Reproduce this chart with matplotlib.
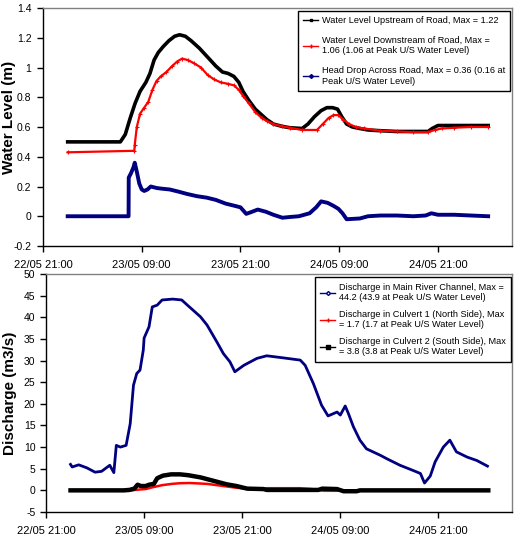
import matplotlib
matplotlib.use("Agg")
import matplotlib.pyplot as plt
from matplotlib.lines import Line2D
from matplotlib.ticker import FuncFormatter, MultipleLocator

plt.rcParams['font.family'] = ['Liberation Sans', 'DejaVu Sans']
plt.rcParams['axes.unicode_minus'] = False

# ---- data (time in hours since 23/05 00:00) ----
AXIS_START_OFFSET = 3.0   # 22/05 21:00 is 3 h before 23/05 00:00
x_tick_hours = [0, 12, 24, 36, 48]  # hours since 22/05 21:00
x_tick_labels = ["22/05 21:00", "23/05 09:00", "23/05 21:00", "24/05 09:00", "24/05 21:00"]

up_t = [0, 6.4, 7.0, 7.6, 8.2, 8.8, 9.5, 10.0, 10.5, 11.0, 11.6, 12.3, 13.0, 13.6, 14.3,
        15.0, 16.0, 17.0, 18.0, 18.8, 19.5, 20.2, 20.8, 21.3, 22.0, 22.8, 23.6, 24.2, 25.0,
        26.0, 27.0, 28.5, 29.2, 30.0, 30.8, 31.5, 32.2, 32.8, 33.3, 33.9, 34.6, 35.5, 36.5,
        38.0, 40.0, 42.0, 43.8, 44.3, 45.0, 46.0, 48.0, 51.1]
up_v = [0.50, 0.50, 0.55, 0.66, 0.76, 0.84, 0.90, 0.96, 1.05, 1.10, 1.14, 1.18, 1.21, 1.22, 1.21,
        1.18, 1.13, 1.07, 1.01, 0.97, 0.96, 0.94, 0.90, 0.84, 0.78, 0.72, 0.68, 0.65, 0.62,
        0.605, 0.595, 0.59, 0.62, 0.67, 0.71, 0.73, 0.73, 0.72, 0.67, 0.62, 0.60, 0.59, 0.58,
        0.575, 0.57, 0.57, 0.57, 0.59, 0.61, 0.61, 0.61, 0.61]

down_t = [0, 8.1, 8.15, 8.4, 8.8, 9.3, 9.8, 10.3, 10.8, 11.3, 12.0, 12.7, 13.3, 13.9, 14.6,
          15.3, 16.2, 17.0, 17.8, 18.6, 19.5, 20.2, 20.8, 21.3, 22.0, 22.8, 23.6, 24.2, 25.0,
          26.0, 27.0, 28.5, 30.3, 31.0, 31.7, 32.3, 32.9, 33.5, 34.2, 35.0, 36.0, 38.0, 40.0,
          42.0, 43.8, 44.6, 45.5, 47.0, 49.0, 51.1]
down_v = [0.43, 0.44, 0.48, 0.60, 0.69, 0.73, 0.77, 0.85, 0.91, 0.94, 0.97, 1.01, 1.04, 1.06, 1.05,
          1.03, 1.00, 0.95, 0.92, 0.90, 0.89, 0.88, 0.85, 0.81, 0.76, 0.70, 0.66, 0.64, 0.62,
          0.605, 0.595, 0.58, 0.58, 0.62, 0.66, 0.68, 0.68, 0.65, 0.62, 0.60, 0.59, 0.575, 0.57,
          0.565, 0.565, 0.58, 0.59, 0.595, 0.60, 0.60]

drop_t = [0, 7.4, 7.42, 7.7, 8.0, 8.15, 8.4, 8.7, 9.0, 9.3, 9.7, 10.1, 10.8, 11.5, 12.4, 13.5,
          14.5, 15.7, 16.9, 18.0, 19.2, 20.3, 21.0, 21.7, 22.4, 23.1, 24.1, 25.0, 26.1, 27.0,
          28.1, 29.4, 30.2, 30.8, 31.6, 32.3, 32.9, 33.4, 33.9, 35.5, 36.5, 38.0, 40.0, 42.0,
          43.5, 44.2, 45.0, 47.0, 49.0, 51.1]
drop_v = [0, 0, 0.26, 0.29, 0.33, 0.36, 0.30, 0.22, 0.18, 0.17, 0.18, 0.20, 0.19, 0.185, 0.18, 0.165,
          0.15, 0.135, 0.125, 0.11, 0.085, 0.07, 0.06, 0.016, 0.03, 0.045, 0.03, 0.01, -0.01, -0.005,
          0.0, 0.02, 0.06, 0.10, 0.09, 0.07, 0.05, 0.02, -0.02, -0.015, 0.0, 0.005, 0.005, 0.0,
          0.005, 0.02, 0.01, 0.01, 0.005, 0.0]

main_t = [0, 0.2, 1.0, 2.0, 3.0, 3.8, 4.8, 5.3, 5.6, 6.1, 6.8, 7.3, 7.7, 8.1, 8.5, 8.9, 9.0,
          9.6, 10.0, 10.6, 11.2, 12.5, 13.6, 14.3, 15.9, 16.7, 17.9, 18.7, 19.5, 20.1, 21.2,
          22.8, 24.0, 26.1, 28.1, 28.7, 29.7, 30.7, 31.5, 32.6, 33.0, 33.6, 34.0, 34.6, 35.4,
          36.2, 37.9, 38.7, 40.3, 41.9, 42.8, 43.3, 44.0, 44.6, 45.6, 46.4, 47.2, 48.5, 49.7, 51.0]
main_v = [6.0, 5.4, 5.9, 5.2, 4.2, 4.4, 5.8, 4.1, 10.4, 10.0, 10.4, 15.4, 24.3, 27.0, 27.8, 32.4, 35.2,
          37.8, 42.4, 42.8, 44.0, 44.2, 44.0, 42.8, 40.1, 38.2, 34.3, 31.6, 29.7, 27.4, 28.9,
          30.5, 31.1, 30.6, 30.1, 28.9, 24.7, 19.7, 17.2, 18.1, 17.4, 19.5, 17.7, 14.7, 11.6,
          9.6, 8.1, 7.3, 5.8, 4.6, 3.9, 1.7, 3.3, 6.6, 10.0, 11.6, 8.9, 7.7, 6.9, 5.6]

c1_t = [0, 7.3, 8.5, 9.2, 10.0, 11.2, 12.4, 13.4, 14.6, 16.7, 18.7, 20.3, 21.9, 23.6, 24.0,
        28.0, 29.5, 31.0, 32.5, 33.0, 35.4, 51.1]
c1_v = [0, 0, 0.2, 0.3, 0.7, 1.2, 1.5, 1.65, 1.7, 1.5, 1.0, 0.6, 0.3, 0.3, 0.5,
        0.5, 0.3, -0.1, -0.1, 0.0, 0.0, 0.0]

c2_t = [0, 6.5, 7.2, 7.8, 8.2, 8.6, 9.2, 9.6, 10.2, 10.6, 11.3, 12.3, 13.4, 14.4, 15.9, 17.5,
        19.1, 20.3, 21.6, 23.6, 24.0, 30.3, 30.8, 32.6, 33.4, 35.0, 35.4, 51.1]
c2_v = [0, 0, 0.1, 0.4, 1.3, 1.0, 1.0, 1.3, 1.5, 2.8, 3.4, 3.7, 3.7, 3.5, 3.0, 2.2,
        1.4, 1.0, 0.4, 0.3, 0.1, 0.1, 0.4, 0.3, -0.2, -0.2, 0.0, 0.0]

top_labels = ["Water Level Upstream of Road, Max = 1.22",
              "Water Level Downstream of Road, Max =\n1.06 (1.06 at Peak U/S Water Level)",
              "Head Drop Across Road, Max = 0.36 (0.16 at\nPeak U/S Water Level)"]
bot_labels = ["Discharge in Main River Channel, Max =\n44.2 (43.9 at Peak U/S Water Level)",
              "Discharge in Culvert 1 (North Side), Max\n= 1.7 (1.7 at Peak U/S Water Level)",
              "Discharge in Culvert 2 (South Side), Max\n= 3.8 (3.8 at Peak U/S Water Level)"]

NAVY = "#000080"
RED = "#FF0000"
BLACK = "#000000"

W, H = 523, 537
fig = plt.figure(figsize=(W / 100, H / 100), dpi=100)

def px_axes(l, r, t, b):
    return fig.add_axes([l / W, 1 - b / H, (r - l) / W, (b - t) / H])

ax1 = px_axes(43, 512, 8, 246)
ax2 = px_axes(46, 512, 274, 512)

def shift(ts):
    return [t + AXIS_START_OFFSET for t in ts]

def fmt(v, pos):
    return "%g" % round(v, 6)

def style(ax, ymin, ymax, step, label, ypad, lab_x, lab_y):
    ax.set_xlim(0, 57)
    ax.set_ylim(ymin, ymax)
    ax.yaxis.set_major_locator(MultipleLocator(step))
    ax.yaxis.set_major_formatter(FuncFormatter(fmt))
    ax.set_xticks(x_tick_hours)
    ax.set_xticklabels(x_tick_labels)
    for s in ("top", "right"):
        ax.spines[s].set_color("#808080")
        ax.spines[s].set_linewidth(1.0)
    for s in ("left", "bottom"):
        ax.spines[s].set_color("black")
        ax.spines[s].set_linewidth(1.0)
    ax.tick_params(axis="both", direction="out", length=4, width=1, colors="black")
    ax.tick_params(axis="x", pad=6, labelsize=8)
    ax.tick_params(axis="y", pad=ypad, labelsize=7.5)
    ax.set_ylabel(label, fontsize=11, fontweight="bold")
    ax.yaxis.set_label_coords(lab_x, lab_y)

# top chart
ax1.plot(shift(up_t), up_v, color=BLACK, lw=2.6, zorder=3)
ax1.plot(shift(down_t), down_v, color=RED, lw=1.6, marker="+", ms=3, mew=0.8, zorder=4)
ax1.plot(shift(drop_t), drop_v, color=NAVY, lw=2.8, zorder=3)
style(ax1, -0.2, 1.4, 0.2, "Water Level (m)", 4.3, -0.058, 0.54)

h1 = [Line2D([], [], color=BLACK, lw=1, marker="s", ms=2),
      Line2D([], [], color=RED, lw=1, marker="+", ms=3),
      Line2D([], [], color=NAVY, lw=1, marker="D", ms=2)]
leg1 = ax1.legend(h1, top_labels, loc="upper right", bbox_to_anchor=(0.996, 0.988),
                  borderaxespad=0, fontsize=6.6, frameon=True, fancybox=False,
                  edgecolor="black", framealpha=1, handlelength=1.6, handletextpad=0.4,
                  labelspacing=1.2, borderpad=0.55)
leg1.get_frame().set_linewidth(1.0)

# bottom chart
ax2.plot(shift(main_t), main_v, color=NAVY, lw=2.0, zorder=3)
ax2.plot(shift(c1_t), c1_v, color=RED, lw=1.8, zorder=4)
ax2.plot(shift(c2_t), c2_v, color=BLACK, lw=3.2, zorder=5)
style(ax2, -5, 50, 5, "Discharge (m3/s)", 3.6, -0.062, 0.5)

h2 = [Line2D([], [], color=NAVY, lw=1, marker="D", ms=2, mfc="white"),
      Line2D([], [], color=RED, lw=1, marker="+", ms=3),
      Line2D([], [], color=BLACK, lw=1, marker="s", ms=2.5)]
leg2 = ax2.legend(h2, bot_labels, loc="upper right", bbox_to_anchor=(0.998, 0.987),
                  borderaxespad=0, fontsize=6.6, frameon=True, fancybox=False,
                  edgecolor="black", framealpha=1, handlelength=1.6, handletextpad=0.4,
                  labelspacing=0.85, borderpad=0.6)
leg2.get_frame().set_linewidth(1.0)

fig.savefig("out.png", dpi=100)
